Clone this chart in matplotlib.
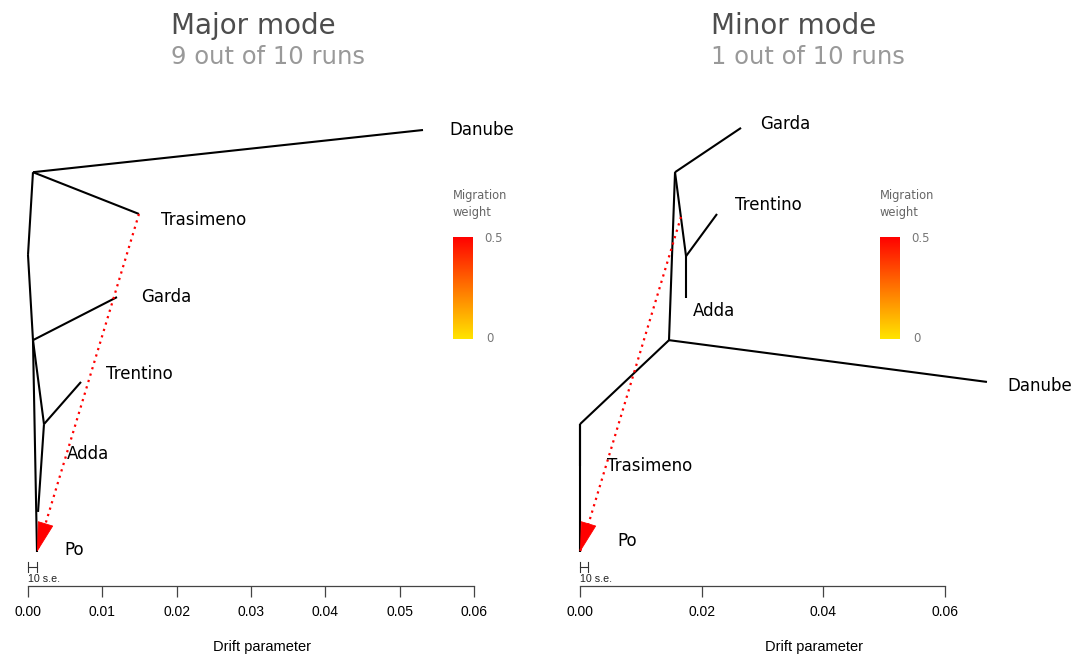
import numpy as np
import matplotlib
matplotlib.use("Agg")
import matplotlib.pyplot as plt
from matplotlib.colors import LinearSegmentedColormap
from matplotlib.patches import ArrowStyle

# --- data: tree layout (x = drift, y = vertical order) ---
major_names = ['root', 'n1', 'n2', 'n3', 'Danube', 'Trasimeno', 'Garda', 'Trentino', 'Adda', 'Po']
major_x = [0.0, 0.00067, 0.00067, 0.00215, 0.05314, 0.01493, 0.01197, 0.00713, 0.00135, 0.00121]
major_y = [0.704, 0.900, 0.502, 0.303, 1.0, 0.801, 0.604, 0.403, 0.095, 0.0]
major_edges = [('root', 'n1'), ('n1', 'Danube'), ('n1', 'Trasimeno'), ('root', 'n2'),
               ('n2', 'Garda'), ('n2', 'n3'), ('n3', 'Trentino'), ('n3', 'Adda'), ('n2', 'Po')]
major_mig = ('Trasimeno', 'Po')
major_mig_weight = 0.5
major_labels = ['Danube', 'Trasimeno', 'Garda', 'Trentino', 'Adda', 'Po']
major_label_x = [0.05664, 0.01789, 0.01520, 0.01049, 0.00525, 0.00484]
major_label_y = [1.0, 0.787, 0.604, 0.422, 0.232, 0.005]
major_ticks = [0.00, 0.01, 0.02, 0.03, 0.04, 0.05, 0.06]
major_se = 0.00012

minor_names = ['root', 'n1', 'n2', 'n3', 'Danube', 'Garda', 'Trentino', 'Adda', 'Trasimeno', 'Po', 'mig']
minor_x = [0.0, 0.01463, 0.01562, 0.01743, 0.0669, 0.02647, 0.02252, 0.01743, 0.0, 0.0, 0.01660]
minor_y = [0.303, 0.502, 0.900, 0.701, 0.403, 1.005, 0.801, 0.602, 0.204, 0.0, 0.794]
minor_edges = [('root', 'n1'), ('n1', 'Danube'), ('n1', 'n2'), ('n2', 'Garda'), ('n2', 'n3'),
               ('n3', 'Trentino'), ('n3', 'Adda'), ('root', 'Trasimeno'), ('root', 'Po')]
minor_mig = ('mig', 'Po')
minor_mig_weight = 0.5
minor_labels = ['Garda', 'Trentino', 'Adda', 'Danube', 'Trasimeno', 'Po']
minor_label_x = [0.02959, 0.02548, 0.01858, 0.07019, 0.00444, 0.00608]
minor_label_y = [1.014, 0.822, 0.571, 0.393, 0.204, 0.026]
minor_ticks = [0.00, 0.02, 0.04, 0.06]
minor_se = 0.000125

titles = ['Major mode', 'Minor mode']
subtitles = ['9 out of 10 runs', '1 out of 10 runs']

W, H = 1078, 658
cmap = LinearSegmentedColormap.from_list('mig', ['#FFE400', '#FF7400', '#FF0000'])
sans = ['Liberation Sans', 'DejaVu Sans']

fig = plt.figure(figsize=(W / 100, H / 100), dpi=100)


def draw_panel(ax_px, xlim, names, xs, ys, edges, mig, weight, labels, lx, ly, ticks, se,
               title, subtitle, title_x, cbar_x, xlabel_x):
    left, right = ax_px
    ax = fig.add_axes([left / W, (H - 586) / H, (right - left) / W, (586 - 90) / H])
    ax.set_xlim(xlim)
    ax.set_ylim((552 - 586) / 422, (552 - 90) / 422)
    pos = {n: (x, y) for n, x, y in zip(names, xs, ys)}

    for a, b in edges:
        ax.plot([pos[a][0], pos[b][0]], [pos[a][1], pos[b][1]], color='black', lw=1.5,
                solid_capstyle='butt', zorder=2)

    # migration edge
    c = cmap(weight / 0.5)
    (x0, y0), (x1, y1) = pos[mig[0]], pos[mig[1]]
    ax.plot([x0, x1], [y0, y1], color=c, lw=1.6, linestyle=(0, (1, 2)), zorder=3)
    tx, ty = x0 + 0.92 * (x1 - x0), y0 + 0.92 * (y1 - y0)
    ax.annotate('', xy=(x1, y1), xytext=(tx, ty),
                arrowprops=dict(arrowstyle=ArrowStyle('-|>', head_length=1.0, head_width=0.27),
                                mutation_scale=20, color=c, lw=0.6, shrinkA=0, shrinkB=0),
                zorder=4)

    for t, x, y in zip(labels, lx, ly):
        ax.text(x, y, t, fontsize=12, ha='left', va='center', family='DejaVu Sans')

    # scale bar (10 s.e.)
    yb = (552 - 567) / 422
    hh = 5 / 422
    ax.plot([0, 10 * se], [yb, yb], color='#333333', lw=0.8)
    ax.plot([0, 0], [yb - hh, yb + hh], color='#333333', lw=0.8)
    ax.plot([10 * se, 10 * se], [yb - hh, yb + hh], color='#333333', lw=0.8)
    ax.text(0.00005, (552 - 579) / 422, '10 s.e.', fontsize=7.7, ha='left', va='center',
            family=sans, color='#222222')

    for s in ['top', 'left', 'right']:
        ax.spines[s].set_visible(False)
    ax.spines['bottom'].set_bounds(ticks[0], ticks[-1])
    ax.spines['bottom'].set_color('#444444')
    ax.spines['bottom'].set_linewidth(0.9)
    ax.set_yticks([])
    ax.set_xticks(ticks)
    ax.set_xticklabels(['%.2f' % t for t in ticks], family=sans)
    ax.tick_params(axis='x', length=8, width=0.9, color='#444444', labelsize=10, pad=6)
    ax.set_facecolor('none')

    fig.text(xlabel_x / W, (H - 647) / H, 'Drift parameter', fontsize=10.5, family=sans,
             ha='center', va='center')

    fig.text(title_x / W, (H - 34) / H, title, fontsize=20, color='#4d4d4d', ha='left',
             va='baseline', family='DejaVu Sans')
    fig.text(title_x / W, (H - 64) / H, subtitle, fontsize=17.5, color='#999999', ha='left',
             va='baseline', family='DejaVu Sans')

    # migration weight legend
    cax = fig.add_axes([cbar_x / W, (H - 339) / H, 20 / W, 102 / H])
    grad = np.linspace(1, 0, 200).reshape(-1, 1)
    cax.imshow(grad, aspect='auto', cmap=cmap, vmin=0, vmax=1)
    cax.set_axis_off()
    fig.text(cbar_x / W, (H - 204) / H, 'Migration\nweight', fontsize=8.3, color='#666666',
             ha='left', va='center', linespacing=1.4, family='DejaVu Sans')
    fig.text((cbar_x + 31) / W, (H - 238) / H, '0.5', fontsize=8.5, color='#777777',
             ha='left', va='center', family='DejaVu Sans')
    fig.text((cbar_x + 33) / W, (H - 339) / H, '0', fontsize=8.5, color='#777777',
             ha='left', va='center', family='DejaVu Sans')


draw_panel((20, 520), ((20 - 28) / 7433.3, (520 - 28) / 7433.3), major_names, major_x, major_y,
           major_edges, major_mig, major_mig_weight, major_labels, major_label_x, major_label_y,
           major_ticks, major_se, titles[0], subtitles[0], 171, 453, 262)
draw_panel((572, 1076), ((572 - 580) / 6083.3, (1076 - 580) / 6083.3), minor_names, minor_x,
           minor_y, minor_edges, minor_mig, minor_mig_weight, minor_labels, minor_label_x,
           minor_label_y, minor_ticks, minor_se, titles[1], subtitles[1], 711, 880, 814)

fig.savefig('out.png', dpi=100)
